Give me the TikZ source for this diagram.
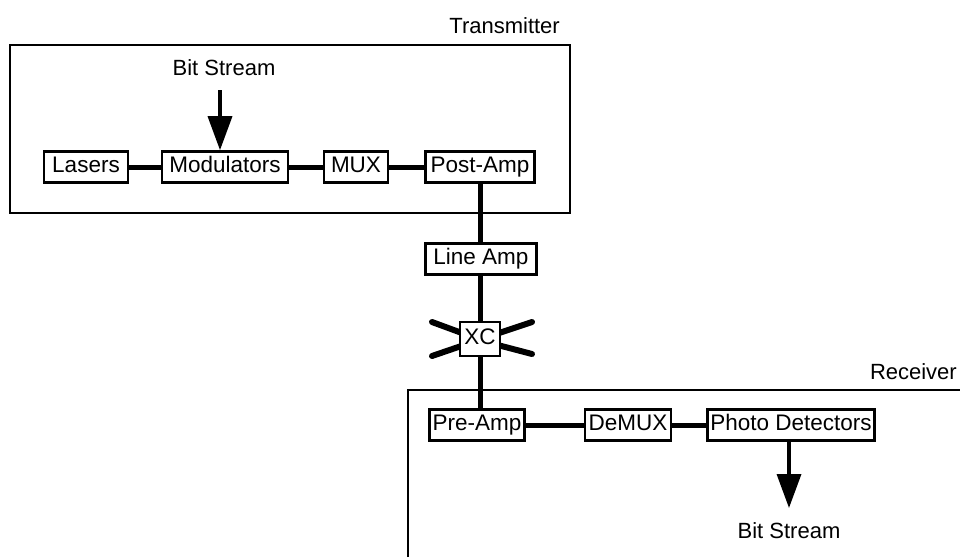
\documentclass[tikz,border=0pt]{standalone}
\usepackage{fontspec}
\setmainfont{Liberation Sans}
\usetikzlibrary{arrows.meta}
\begin{document}
\begin{tikzpicture}[x=1pt,y=-1pt,
  blk/.style={draw,line width=2.6pt,inner sep=0pt,text height=16.5pt,text depth=5pt,minimum height=31pt,font=\fontsize{22.5}{25}\selectfont,anchor=center},
  lbl/.style={font=\fontsize{22}{24}\selectfont,inner sep=0pt},
  wire/.style={line width=5pt},
  frame/.style={line width=2.6pt},
  bigarrow/.style={line width=3.5pt,-{Triangle[length=34pt,width=24pt]}}]
\useasboundingbox (0,0) rectangle (960,557);
% frames
\draw[frame] (10,45) rectangle (570,213);
\node[lbl,anchor=east] (tx) at (560,26) {Transmitter};
\draw[frame] (408,557) -- (408,390) -- (962,390);
\node[lbl,anchor=east] (rx) at (957,372) {Receiver};
% transmitter blocks
\node[blk,minimum width=84pt] (las) at (86,167) {Lasers};
\node[blk,minimum width=126pt] (mod) at (225,167) {Modulators};
\node[blk,minimum width=64pt] (mux) at (356,167) {MUX};
\node[blk,minimum width=109pt] (post) at (480,167) {Post-Amp};
\node[lbl] (bsin) at (224,68) {Bit Stream};
\coordinate (bsinTop) at (220,90);
\draw[wire] (las) -- (mod);
\draw[wire] (mod) -- (mux);
\draw[wire] (mux) -- (post);
\draw[bigarrow] (bsinTop) -- (mod.north -| bsinTop);
% line
\node[blk,minimum width=111pt] (line) at (481,259) {Line Amp};
\coordinate (xa) at (432,322);
\coordinate (xb) at (532,354);
\coordinate (xc1) at (432,356);
\coordinate (xd) at (532,322);
\coordinate (xm1) at (470,336);
\coordinate (xm2) at (470,343);
\coordinate (xm3) at (490,336);
\coordinate (xm4) at (490,343);
\draw[wire,line width=6pt,line cap=round] (xa) -- (xm1);
\draw[wire,line width=6pt,line cap=round] (xc1) -- (xm2);
\draw[wire,line width=6pt,line cap=round] (xd) -- (xm3);
\draw[wire,line width=6pt,line cap=round] (xb) -- (xm4);
\node[blk,minimum width=40pt,minimum height=34pt,fill=white] (xc) at (480,339) {XC};
% receiver blocks
\node[blk,minimum width=95pt] (pre) at (477,425) {Pre-Amp};
\node[blk,minimum width=86pt] (demux) at (628,425) {DeMUX};
\node[blk,minimum width=167pt] (pd) at (791,425) {Photo Detectors};
\node[lbl] (bsout) at (789,531) {Bit Stream};
\coordinate (bsoutTip) at (789,508);
\draw[wire] (post.south -| 480,0) -- (line.north -| 480,0);
\draw[wire] (line.south -| 480,0) -- (xc.north);
\draw[wire] (xc.south) -- (pre.north -| 480,0);
\draw[wire] (pre) -- (demux);
\draw[wire] (demux) -- (pd);
\draw[bigarrow] (pd.south -| bsoutTip) -- (bsoutTip);
\end{tikzpicture}
\end{document}
